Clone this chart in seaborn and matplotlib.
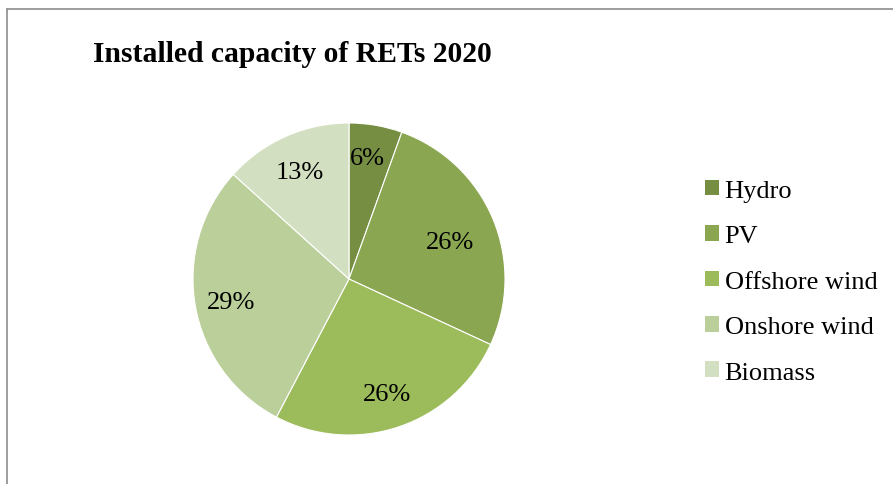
import matplotlib
matplotlib.use("Agg")
import matplotlib.pyplot as plt
import matplotlib.transforms as mtransforms
import seaborn as sns
import numpy as np
from matplotlib.lines import Line2D
from matplotlib.patches import Patch

categories = ["Hydro", "PV", "Offshore wind", "Onshore wind", "Biomass"]
values = [5.5, 26.4, 25.8, 29.0, 13.3]
labels_pct = ["6%", "26%", "26%", "29%", "13%"]
colors = ["#758E42", "#8AA651", "#9CBB5A", "#BBCF9B", "#D3DFC1"]
title = "Installed capacity of RETs 2020"

sns.set_theme(style="white")
plt.rcParams['font.family'] = ['Liberation Serif', 'DejaVu Serif']
plt.rcParams['text.color'] = 'black'

fig = plt.figure(figsize=(8.93, 4.85), dpi=100)
fig.patch.set_facecolor("white")

ax = fig.add_axes([193/893, 49/485, 312/893, 312/485])
wedges, texts = ax.pie(values, colors=colors, startangle=90, counterclock=False,
                       wedgeprops=dict(edgecolor="white", linewidth=0.8))
ax.set_xlim(-1, 1)
ax.set_ylim(-1, 1)
ax.set_aspect("equal")
ax.axis("off")

pd_ = [0.8, 0.7, 0.76, 0.77, 0.77]
dx_ = [-3, 0, 0, 0, 0]
dy_ = [-2, -5, -3, -2, -3]
for w, lab, d, ox, oy in zip(wedges, labels_pct, pd_, dx_, dy_):
    ang = np.deg2rad((w.theta1 + w.theta2) / 2)
    tr = mtransforms.offset_copy(ax.transData, fig=fig, x=ox, y=oy, units="dots")
    ax.text(d * np.cos(ang), d * np.sin(ang), lab, ha="center", va="center",
            fontsize=19, color="black", transform=tr)

fig.text(93/893, 1 - 55/485, title, fontsize=21.3, fontweight="bold",
         ha="left", va="center", color="black")

handles = [Patch(facecolor=c, edgecolor="none") for c in colors]
leg = fig.legend(handles, categories, loc="upper left",
                 bbox_to_anchor=(694/893, 1 - 170/485), frameon=False,
                 fontsize=19, handlelength=0.53, handleheight=0.53,
                 handletextpad=0.23, labelspacing=0.885, borderaxespad=0,
                 labelcolor="black")

# border lines
fig.add_artist(Line2D([7/893, 1], [1 - 10/485, 1 - 10/485], color="#8C8C8C", lw=1.2,
                      transform=fig.transFigure))
fig.add_artist(Line2D([7/893, 7/893], [0, 1 - 10/485], color="#8C8C8C", lw=1.2,
                      transform=fig.transFigure))

fig.savefig("out.png", dpi=100, facecolor="white")
